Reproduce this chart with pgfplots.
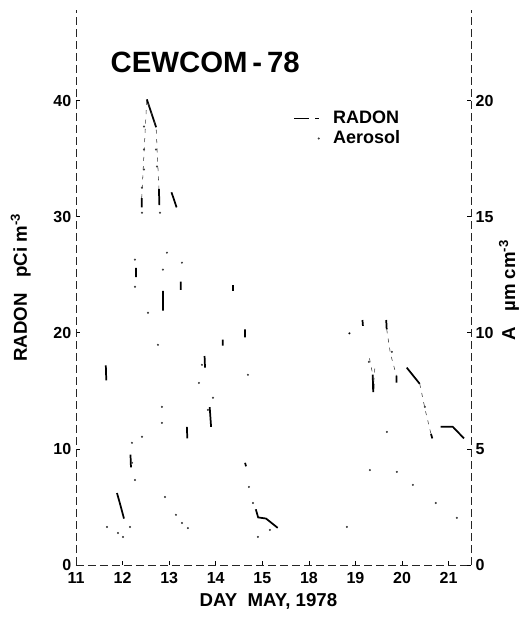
\documentclass[border=0pt]{standalone}
\usepackage{fontspec}
\setmainfont{Liberation Sans}
\usepackage{pgfplots}
\pgfplotsset{compat=1.18}
\begin{document}
\begin{tikzpicture}
\useasboundingbox (-57pt,-39pt) rectangle (336pt,423.75pt);
\pgfplotsset{
 common/.style={
  at={(0,0)}, anchor=south west, scale only axis,
  width=296.25pt, height=416.25pt,
  xmin=0, xmax=8.48,
  tick label style={font=\bfseries\fontsize{12}{12}\selectfont},
  /pgf/number format/assume math mode=true,
  axis line style={-, black!85, line width=0.5pt, dash pattern=on 6pt off 3pt},
  major tick length=3pt,
  tick style={black, line width=0.5pt},
  label style={font=\bfseries\fontsize{14}{14}\selectfont},
 }
}
\begin{axis}[common,
  ymin=0, ymax=47.8,
  axis x line*=bottom, axis y line*=left,
  xtick={0,...,8}, xticklabels={11,12,13,14,15,18,19,20,21},
  xticklabel style={yshift=-2pt},
  ytick={0,10,20,30,40},
  xlabel={DAY\ \ MAY, 1978},
  xlabel style={at={(axis description cs:0.487,-0.065)}, anchor=center},
  ylabel={RADON\ \ \ pCi m\textsuperscript{-3}},
  ylabel style={at={(axis description cs:-0.14,0.5)}, anchor=center},
  unbounded coords=jump]
\addplot[black, line width=1.3pt] coordinates {
 (0.64,17.2) (0.65,15.9) (0.65,nan)
 (0.88,6.2) (0.95,5.2) (1.03,4.0) (1.03,nan)
 (1.17,9.5) (1.18,8.4) (1.18,nan)
 (1.29,25.6) (1.29,24.8) (1.29,nan)
 (1.41,31.6) (1.41,30.8) (1.41,nan)
 (1.52,40.1) (1.62,38.9) (1.72,37.7) (1.72,nan)
 (1.78,32.4) (1.79,31.0) (1.79,nan)
 (1.87,23.6) (1.87,21.9) (1.87,nan)
 (2.05,32.1) (2.16,30.8) (2.16,nan)
 (2.25,24.4) (2.25,23.7) (2.25,nan)
 (2.38,11.9) (2.39,10.9) (2.39,nan)
 (2.76,18.0) (2.77,17.0) (2.77,nan)
 (2.87,13.6) (2.90,11.9) (2.90,nan)
 (3.15,19.4) (3.15,18.9) (3.15,nan)
 (3.37,24.1) (3.37,23.6) (3.37,nan)
 (3.63,20.3) (3.63,19.6) (3.63,nan)
 (3.63,8.8) (3.65,8.5) (3.65,nan)
 (3.86,4.8) (3.91,4.1) (4.08,4.0) (4.33,3.2) (4.33,nan)
 (5.86,20.0) (5.88,19.9) (5.88,nan)
 (6.15,21.1) (6.16,20.6) (6.16,nan)
 (6.37,16.4) (6.38,14.9) (6.39,15.6) (6.39,nan)
 (6.66,21.1) (6.67,20.3) (6.67,nan)
 (6.88,16.3) (6.88,15.7) (6.88,nan)
 (7.10,17.0) (7.22,16.4) (7.38,15.6) (7.38,nan)
 (7.62,11.3) (7.65,10.9) (7.65,nan)
 (7.83,11.9) (8.09,11.9) (8.33,10.9)
};
\addplot[black!80, line width=0.4pt, dash pattern=on 3pt off 4pt] coordinates {
 (1.41,31.6) (1.52,40.1) (1.72,37.7) (1.78,32.4) (1.78,nan)
 (6.30,17.8) (6.37,16.4) (6.39,15.6) (6.42,17.2) (6.42,nan)
 (6.67,20.3) (6.75,18.2) (6.88,16.3) (6.88,nan)
 (7.38,15.6) (7.50,13.3) (7.62,11.3)
};
\node[font=\bfseries\fontsize{22}{22}\selectfont] at (rel axis cs:0.327,0.906) {CEWCOM\,-\,78};
\end{axis}
\begin{axis}[common,
  ymin=0, ymax=23.9,
  axis x line=none, axis y line*=right,
  ytick={0,5,10,15,20},
  ylabel={A\ \ \ µm cm\textsuperscript{-3}},
  ylabel style={at={(axis description cs:1.096,0.495)}, anchor=center},
  legend style={draw=none, fill=none, at={(axis description cs:0.54,0.828)}, anchor=north west,
    font=\bfseries\fontsize{13.5}{13.5}\selectfont, row sep=0pt},
  legend cell align=left,
  legend entries={RADON, Aerosol}]
\addlegendimage{legend image code/.code={\draw[black, line width=0.7pt, dash pattern=on 11pt off 5pt on 3pt off 9pt] (-0.35cm,0cm) -- (0.6cm,0cm);}}
\addplot[only marks, mark=*, mark size=0.55pt, black!75] coordinates {
 (0.665,1.64) (0.901,1.38) (1.009,1.21) (1.159,1.64) (1.202,5.26) (1.202,4.40)
 (1.266,3.66) (1.266,13.15) (1.266,11.98) (1.416,16.25) (1.416,15.17) (1.416,5.52)
 (1.459,18.88) (1.459,17.89) (1.459,17.03) (1.545,10.86) (1.717,17.89) (1.738,17.16)
 (1.760,9.48) (1.803,15.17) (1.845,6.81) (1.845,6.12) (1.867,12.72) (1.910,2.93)
 (1.953,13.45) (2.146,2.16) (2.275,13.02) (2.275,1.81) (2.403,1.59) (2.639,7.84)
 (2.704,8.62) (2.833,6.68) (2.940,7.20) (3.691,8.19) (3.712,3.36) (3.798,2.67)
 (3.906,1.21) (4.163,1.51) (5.815,1.64) (6.288,8.75) (6.309,4.09) (6.674,5.73)
 (6.781,9.18) (6.888,4.01) (7.232,3.45) (7.489,6.81) (7.725,2.67) (8.176,2.03)
};
\end{axis}
\end{tikzpicture}
\end{document}
